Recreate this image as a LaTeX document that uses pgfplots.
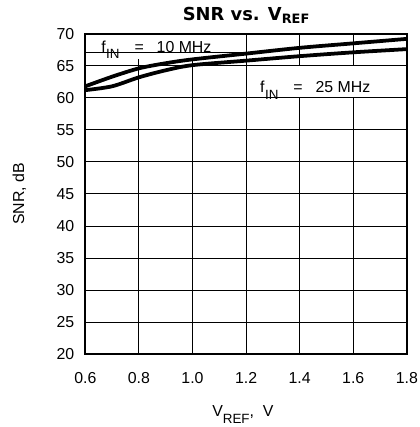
\documentclass[border=0pt]{standalone}
\usepackage{pgfplots}
\pgfplotsset{compat=1.18}
\usepackage{fontspec}
\setmainfont{Liberation Sans}
\newfontfamily\titlefont{DejaVu Sans}
\newcommand\sub[1]{\raisebox{-7pt}{\fontsize{13.5}{14}\selectfont #1}}
\begin{document}
\begin{tikzpicture}
\begin{axis}[
  width=324pt, height=323pt, scale only axis,
  xmin=0.6, xmax=1.8, ymin=20, ymax=70,
  xtick={0.6,0.8,1.0,1.2,1.4,1.6,1.8},
  ytick={20,25,30,35,40,45,50,55,60,65,70},
  /pgf/number format/assume math mode=true,
  ticklabel style={font=\fontsize{16}{18}\selectfont, inner sep=0pt},
  xticklabel style={/pgf/number format/fixed, /pgf/number format/fixed zerofill,
    /pgf/number format/precision=1, anchor=north, yshift=-18pt},
  yticklabel style={anchor=east, xshift=-11pt},
  grid=major,
  major grid style={black, line width=1pt},
  axis line style={line width=1.8pt},
  tick style={draw=none},
  title={\titlefont\bfseries\fontsize{18}{20}\selectfont SNR vs. V\raisebox{-2.5pt}{\fontsize{13}{14}\selectfont REF}},
  title style={at={(axis description cs:0.5,1)}, anchor=base, yshift=7pt},
  xlabel={V\sub{REF}, \ V},
  ylabel={SNR, dB},
  label style={font=\fontsize{16}{18}\selectfont},
  xlabel style={at={(axis description cs:0.49,-0.195)}, anchor=base},
  ylabel style={at={(axis description cs:-0.205,0.5)}, anchor=center},
]
% label boxes
\fill[white] ([xshift=1pt,yshift=-1pt]axis cs:0.6,70) rectangle ([xshift=-0.6pt]axis cs:1.2,66.1);
\draw[line width=1pt] (axis cs:0.6,67.0) -- (axis cs:1.2,67.0);
\fill[white] ([xshift=0.6pt,yshift=-0.6pt]axis cs:1.2,65) rectangle ([xshift=-1pt,yshift=0.6pt]axis cs:1.8,60);
\node[anchor=base west, inner sep=0pt, font=\fontsize{16}{18}\selectfont]
  at (axis cs:0.659,67.15) {f\kern0.5pt\sub{IN}\hspace{15pt}=\hspace{13pt}10 MHz};
\node[anchor=base west, inner sep=0pt, font=\fontsize{16}{18}\selectfont]
  at (axis cs:1.252,60.85) {f\kern0.5pt\sub{IN}\hspace{15pt}=\hspace{13pt}25 MHz};
% 10 MHz
\addplot[black, line width=3.8pt, smooth] coordinates {
  (0.6,61.8) (0.7,63.3) (0.8,64.6) (0.9,65.4) (1.0,66.0) (1.2,66.9) (1.4,67.8) (1.6,68.5) (1.8,69.2)
};
% 25 MHz
\addplot[black, line width=3.8pt, smooth] coordinates {
  (0.6,61.2) (0.7,61.8) (0.8,63.2) (0.9,64.3) (1.0,65.1) (1.2,65.8) (1.4,66.5) (1.6,67.1) (1.8,67.6)
};
\end{axis}
% page frame
\path ([shift={(-86pt,-70pt)}]current axis.south west) rectangle ([shift={(13pt,34pt)}]current axis.north east);
\end{tikzpicture}
\end{document}
